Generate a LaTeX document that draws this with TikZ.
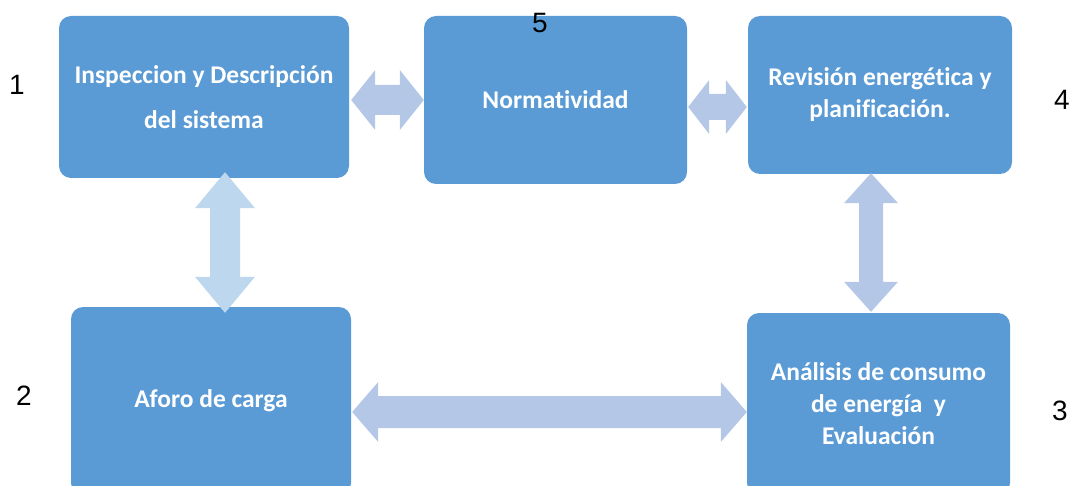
\documentclass[tikz,border=0pt]{standalone}
\usepackage{fontspec}
\setmainfont{Liberation Sans}
\newfontfamily\boxfont[Ligatures={NoCommon}]{Carlito}
\usetikzlibrary{calc}
\definecolor{boxblue}{HTML}{5B9BD5}
\definecolor{arrowblue}{HTML}{B4C7E7}
\definecolor{arrowlight}{HTML}{BDD7EE}
\tikzset{
  stagebox/.style={fill=boxblue, draw=none, rounded corners=12pt, inner sep=0pt,
    text=white, align=center, font=\boxfont\bfseries\fontsize{25.5}{32}\selectfont},
  numlabel/.style={inner sep=0pt, font=\fontsize{28}{30}\selectfont, text=black},
  fatarrow/.style={fill=arrowblue, draw=none},
}
% horizontal double arrow: #1 style, #2 left tip, #3 right tip, #4 shaft half, #5 head half, #6 head length
\newcommand\hdblarrow[6]{%
  \fill[#1] let \p1=(#2), \p2=(#3) in
    (\x1,\y1) -- (\x1+#6,\y1+#5) -- (\x1+#6,\y1+#4) -- (\x2-#6,\y1+#4) -- (\x2-#6,\y1+#5)
    -- (\x2,\y1) -- (\x2-#6,\y1-#5) -- (\x2-#6,\y1-#4) -- (\x1+#6,\y1-#4) -- (\x1+#6,\y1-#5) -- cycle;}
% vertical double arrow: #2 top tip, #3 bottom tip
\newcommand\vdblarrow[6]{%
  \fill[#1] let \p1=(#2), \p2=(#3) in
    (\x1,\y1) -- (\x1+#5,\y1-#6) -- (\x1+#4,\y1-#6) -- (\x1+#4,\y2+#6) -- (\x1+#5,\y2+#6)
    -- (\x1,\y2) -- (\x1-#5,\y2+#6) -- (\x1-#4,\y2+#6) -- (\x1-#4,\y1-#6) -- (\x1-#5,\y1-#6) -- cycle;}
\begin{document}
\begin{tikzpicture}[x=1pt,y=-1pt]
\useasboundingbox (0,0) rectangle (1081,486);
\clip (0,0) rectangle (1081,486);
% boxes
\node[stagebox, minimum width=290pt, minimum height=162pt] (b1) at (204,97)
  {Inspeccion y Descripción\\[13pt]del sistema};
\node[stagebox, minimum width=263pt, minimum height=168pt] (b5) at (555.5,100)
  {Normatividad};
\node[stagebox, minimum width=264pt, minimum height=158pt] (b4) at (880,95)
  {Revisión energética y\\planificación.};
\node[stagebox, minimum width=280pt, minimum height=188pt] (b2) at (211,401)
  {Aforo de carga};
\node[stagebox, minimum width=263pt, minimum height=182pt] (b3) at (878.5,404)
  {Análisis de consumo\\de energía~ y\\Evaluación};
% numbers
\node[numlabel] (n1) at (17,85) {1};
\node[numlabel] (n2) at (24,396) {2};
\node[numlabel] (n3) at (1060,411) {3};
\node[numlabel] (n4) at (1062,100) {4};
\node[numlabel] (n5) at (540,23) {5};
% connectors
\hdblarrow{fatarrow}{[xshift=2pt,yshift=-3pt]b1.east}{b5.west}{15pt}{30pt}{24pt}
\hdblarrow{fatarrow}{[xshift=1pt,yshift=-7pt]b5.east}{[xshift=-1pt,yshift=-12pt]b4.west}{13pt}{27pt}{21pt}
\vdblarrow{fatarrow,fill=arrowlight}{[xshift=21pt,yshift=6pt]b1.south}{[xshift=14pt,yshift=-6pt]b2.north}{15pt}{30pt}{36pt}
\vdblarrow{fatarrow}{[xshift=-9pt,yshift=1pt]b4.south}{[xshift=-7.5pt,yshift=1pt]b3.north}{12pt}{27pt}{30pt}
\hdblarrow{fatarrow}{[xshift=1pt,yshift=-11pt]b2.east}{[yshift=-8pt]b3.west}{16pt}{30pt}{26pt}
\end{tikzpicture}
\end{document}
